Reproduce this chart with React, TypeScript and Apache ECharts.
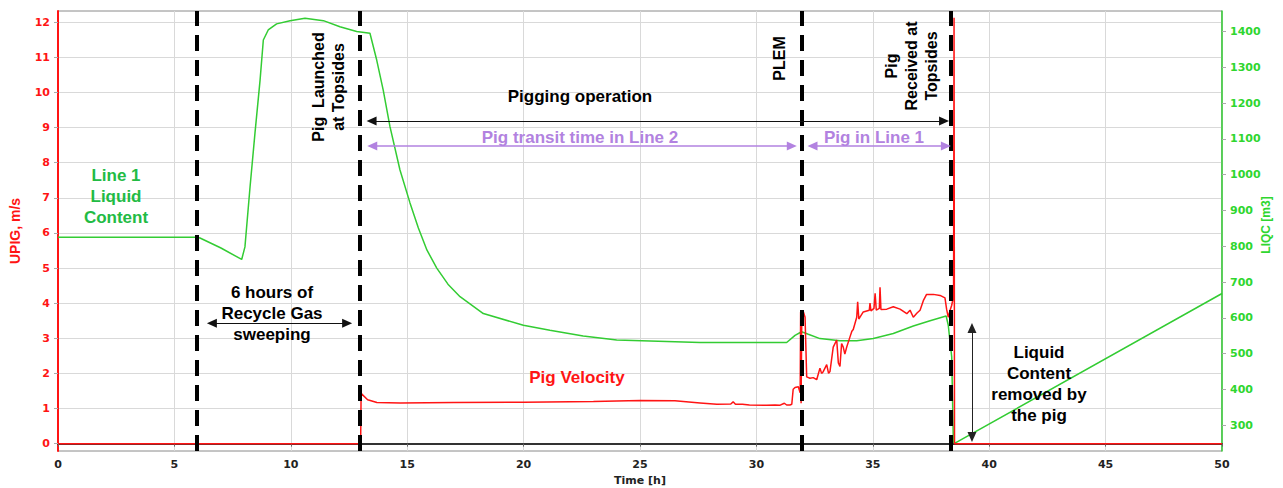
import React, { useEffect, useRef } from "react";
import * as echarts from "echarts";

// ---- data ----
const leftTicks = [0, 1, 2, 3, 4, 5, 6, 7, 8, 9, 10, 11, 12];
const rightTicks = [300, 400, 500, 600, 700, 800, 900, 1000, 1100, 1200, 1300, 1400];

// Line 1 liquid content LIQC [m3] vs time [h]
const liquidContent: [number, number][] = [
  [0, 825], [5.95, 825], [6.1, 823], [7.0, 795], [7.89, 763], [8.03, 798], [8.25, 966],
  [8.46, 1115], [8.68, 1264], [8.82, 1376], [9.03, 1404], [9.39, 1421], [9.97, 1430],
  [10.61, 1437], [11.4, 1430], [12.11, 1413], [12.83, 1400], [13.4, 1395], [13.69, 1320],
  [13.97, 1236], [14.26, 1134], [14.69, 1013], [15.12, 921], [15.48, 851], [15.85, 789],
  [16.27, 739], [16.75, 694], [17.27, 659], [18.27, 612], [19.99, 579], [21.13, 565],
  [22.56, 549], [24.0, 538], [25.43, 535], [27.58, 531], [31.3, 531], [31.66, 551],
  [31.94, 561], [32.23, 554], [32.73, 542], [33.59, 536], [34.31, 536], [35.02, 542],
  [35.88, 556], [36.74, 577], [37.46, 592], [38.15, 605], [38.24, 580], [38.39, 491],
  [38.46, 253], [38.53, 250], [50, 668],
];

// Pig velocity UPIG [m/s] vs time [h]
const pigVelocity: [number, number][] = [
  [0, 0], [13.0, 0], [13.02, 1.43], [13.3, 1.25], [13.7, 1.17], [14.7, 1.16], [17, 1.17],
  [20, 1.18], [23, 1.2], [25, 1.23], [26.5, 1.22], [27.58, 1.16], [28.3, 1.12], [28.9, 1.13],
  [29.0, 1.19], [29.1, 1.12], [29.4, 1.12], [29.7, 1.1], [30.44, 1.09], [30.8, 1.1],
  [31.0, 1.09], [31.2, 1.15], [31.3, 1.1], [31.44, 1.1], [31.52, 1.12], [31.58, 1.55],
  [31.66, 1.6], [31.8, 1.62], [31.88, 1.45], [31.9, 3.75], [31.92, 1.15], [31.95, 3.7],
  [32.02, 3.75], [32.09, 3.6], [32.16, 1.9], [32.3, 1.86], [32.44, 1.88], [32.59, 1.82],
  [32.73, 2.15], [32.8, 2.0], [32.87, 2.05], [33.02, 2.25], [33.1, 2.0], [33.16, 2.05],
  [33.3, 2.75], [33.45, 2.95], [33.52, 2.3], [33.59, 2.2], [33.66, 2.85], [33.73, 2.75],
  [33.8, 2.55], [33.88, 2.75], [34.02, 3.04], [34.1, 3.2], [34.16, 3.25], [34.31, 3.6],
  [34.35, 4.04], [34.4, 3.55], [34.45, 3.6], [34.59, 3.75], [34.85, 3.8], [34.88, 4.0],
  [34.92, 3.78], [35.05, 3.85], [35.1, 4.28], [35.15, 3.8], [35.28, 3.85], [35.31, 4.45],
  [35.35, 3.82], [35.6, 3.83], [35.88, 3.9], [36.17, 3.83], [36.46, 3.7], [36.6, 3.8],
  [36.74, 3.6], [36.9, 3.72], [37.03, 3.8], [37.17, 4.07], [37.31, 4.25], [37.6, 4.25],
  [37.89, 4.22], [38.1, 4.15], [38.17, 3.83], [38.24, 3.6], [38.32, 3.8], [38.39, 3.94],
  [38.47, 4.2], [38.49, 12.13], [38.51, 0], [50, 0],
];

// event times (dashed verticals): 6h sweep start, pig launched, PLEM, pig received
const eventTimes = [5.95, 12.98, 31.93, 38.35];

const FONT = "'Liberation Sans', Arial, sans-serif";
const TICKFONT = "'DejaVu Sans', Verdana, sans-serif";
const RED = "#ff1414";
const GREEN = "#33cc33";
const GREEN_LABEL = "#2fd62f";
const PURPLE = "#b282e0";

function arrow(x1: number, y1: number, x2: number, y2: number, color: string, width: number) {
  return [
    { coord: [x1, y1], lineStyle: { color, width, type: "solid" } },
    { coord: [x2, y2] },
  ];
}

export default function App() {
  const ref = useRef<HTMLDivElement>(null);
  useEffect(() => {
    if (!ref.current) return;
    const chart = echarts.init(ref.current, null, { renderer: "svg" });
    const txt = (
      text: string, x: number, y: number, fill: string, size: number,
      rotation = 0, lineHeight = 21
    ) => ({
      type: "text",
      x, y, rotation,
      z: 100,
      style: {
        text, fill, fontSize: size, fontWeight: "bold", fontFamily: FONT,
        textAlign: "center", textVerticalAlign: "middle", lineHeight,
      },
    });
    const plain = (v: number) => String(v);
    chart.setOption({
      animation: false,
      backgroundColor: "#ffffff",
      grid: {
        left: 58, right: 61, top: 11, bottom: 37,
        outerBoundsMode: "none",
        containLabel: false,
        show: true, borderColor: "#8a8a8a", borderWidth: 1,
      },
      xAxis: {
        type: "value", min: 0, max: 50, interval: 5,
        axisLine: { show: true, lineStyle: { color: "#333", width: 2 } },
        axisTick: { show: true, length: 3, lineStyle: { color: "#666" } },
        axisLabel: { color: "#222", fontWeight: "bold", fontSize: 11, fontFamily: TICKFONT, margin: 8, formatter: plain },
        splitLine: { show: true, lineStyle: { color: "#d9d9d9", width: 1 } },
        name: "Time [h]", nameLocation: "middle", nameGap: 23,
        nameTextStyle: { color: "#222", fontWeight: "bold", fontSize: 11, fontFamily: TICKFONT },
      },
      yAxis: [
        {
          type: "value", position: "left", min: -0.21, max: 12.32,
          axisLine: { show: true, lineStyle: { color: RED, width: 2 } },
          axisTick: { show: true, length: 4, customValues: leftTicks, lineStyle: { color: "#aaa" } },
          axisLabel: {
            customValues: leftTicks, color: RED, fontWeight: "bold", fontSize: 11,
            fontFamily: TICKFONT, margin: 8, formatter: plain,
          },
          splitLine: { show: true, lineStyle: { color: "#d9d9d9", width: 1 } },
          name: "UPIG, m/s", nameLocation: "middle", nameGap: 36, nameRotate: 90,
          nameTextStyle: { color: RED, fontWeight: "bold", fontSize: 14, fontFamily: FONT },
        },
        {
          type: "value", position: "right", min: 228, max: 1457,
          axisLine: { show: true, lineStyle: { color: GREEN, width: 1.5 } },
          axisTick: { show: true, length: 4, customValues: rightTicks, lineStyle: { color: "#aaa" } },
          axisLabel: {
            customValues: rightTicks, color: GREEN_LABEL, fontWeight: "bold", fontSize: 11,
            fontFamily: TICKFONT, margin: 8, formatter: plain,
          },
          splitLine: { show: false },
        },
      ],
      series: [
        {
          name: "LIQC",
          type: "line",
          yAxisIndex: 1,
          data: liquidContent,
          showSymbol: false,
          lineStyle: { color: GREEN, width: 1.5 },
          itemStyle: { color: GREEN },
          z: 3,
        },
        {
          name: "UPIG",
          type: "line",
          yAxisIndex: 0,
          data: pigVelocity,
          showSymbol: false,
          lineStyle: { color: RED, width: 1.5 },
          itemStyle: { color: RED },
          z: 4,
        },
        {
          name: "events",
          type: "line",
          yAxisIndex: 0,
          data: [],
          z: 5,
          markLine: {
            silent: true,
            symbol: ["none", "none"],
            label: { show: false },
            lineStyle: { color: "#000", width: 4, type: [16, 9] },
            data: eventTimes.map((t) => ({ xAxis: t })),
          },
        },
        {
          name: "arrows",
          type: "line",
          yAxisIndex: 0,
          data: [],
          z: 6,
          markLine: {
            silent: true,
            symbol: ["triangle", "triangle"],
            symbolSize: [9, 10],
            label: { show: false },
            data: [
              arrow(6.61, 3.43, 12.42, 3.43, "#111", 1),
              arrow(13.47, 9.19, 38.06, 9.19, "#111", 1),
              arrow(13.5, 8.475, 31.52, 8.475, PURPLE, 1.5),
              arrow(32.41, 8.475, 38.14, 8.475, PURPLE, 1.5),
              arrow(39.26, 3.29, 39.26, 0.19, "#222", 1),
            ],
          },
        },
      ],
      graphic: [
        txt("LIQC [m3]", 1266, 225, GREEN_LABEL, 12, Math.PI / 2, 14),
        txt("Line 1\nLiquid\nContent", 116, 196, "#22bb44", 17),
        txt("6 hours of\nRecycle Gas\nsweeping", 272, 313, "#000", 17),
        txt("Pigging operation", 580, 96, "#000", 17),
        txt("Pig transit time in Line 2", 580, 137, PURPLE, 17),
        txt("Pig in Line 1", 874, 137, PURPLE, 17),
        txt("Pig Velocity", 577, 377, RED, 17),
        txt("Liquid\nContent\nremoved by\nthe pig", 1039, 384, "#000", 17),
        txt("Pig  Launched\nat Topsides", 328, 87, "#000", 16, Math.PI / 2, 20),
        txt("PLEM", 779.5, 58.5, "#000", 16, Math.PI / 2, 20),
        txt("Pig\nReceived at\nTopsides", 911.5, 66, "#000", 16, Math.PI / 2, 20),
      ],
    });
    return () => chart.dispose();
  }, []);
  return (
    <div
      ref={ref}
      style={{ position: "fixed", left: 0, top: 0, width: 1283, height: 488, background: "#fff" }}
    />
  );
}
